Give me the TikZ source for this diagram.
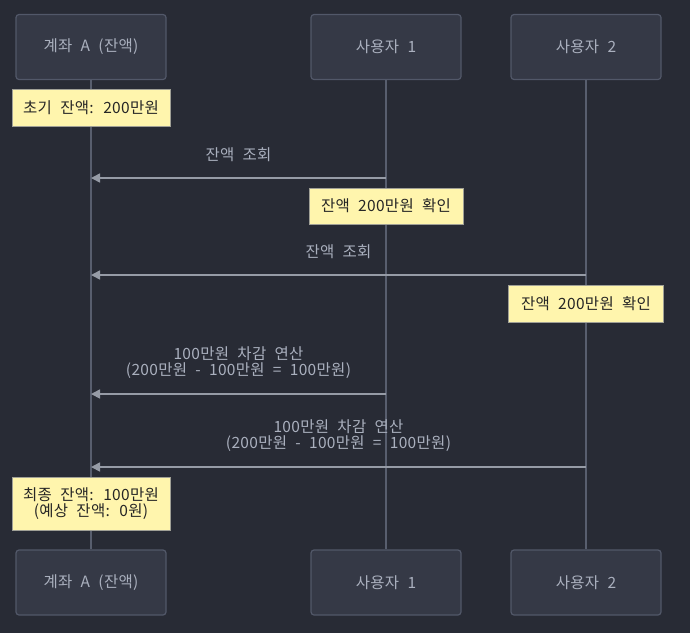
\documentclass[tikz,border=0pt]{standalone}
\usepackage{fontspec}
\setmainfont{Noto Sans CJK KR}[WordSpace=2.2, LetterSpace=2]
\usepackage{tikz}
\usetikzlibrary{positioning, arrows.meta}
\definecolor{bgc}{RGB}{40,43,53}
\definecolor{boxfill}{RGB}{53,57,70}
\definecolor{boxline}{RGB}{82,88,105}
\definecolor{lifec}{RGB}{88,94,110}
\definecolor{msgc}{RGB}{150,155,166}
\definecolor{txtc}{RGB}{170,176,190}
\definecolor{notefill}{RGB}{255,245,173}
\definecolor{noteline}{RGB}{160,160,150}
\tikzset{>=stealth, every node/.style={font=\fontsize{15.5}{16}\selectfont},
actor/.style={draw=boxline, fill=boxfill, line width=1.2pt, rounded corners=3pt, minimum width=150pt, minimum height=65pt, text=txtc},
note/.style={draw=noteline, fill=notefill, line width=0.8pt, text=black!85, align=center, inner sep=0pt},
lifeline/.style={draw=lifec, line width=1.5pt},
msg/.style={draw=msgc, line width=1.6pt, -{Triangle[length=9pt,width=9pt]}},
msglabel/.style={midway, above=15pt, text=txtc, align=center, inner sep=0pt},
}

\begin{document}
\begin{tikzpicture}[x=1pt, y=-1pt]
            \fill[bgc] (0,0) rectangle (690,633);
            \useasboundingbox (0,0) rectangle (690,633);

            % participants
            \node[actor](acct) at (91,47) {계좌 A (잔액)};
            \node[actor](user1) at (386,47) {사용자 1};
            \node[actor](user2) at (586,47) {사용자 2};
            \node[actor](acctB) at (91,582.5) {계좌 A (잔액)};
            \node[actor](user1B) at (386,582.5) {사용자 1};
            \node[actor](user2B) at (586,582.5) {사용자 2};

            % lifelines
            \draw[lifeline] (acct) -- (acctB);
            \draw[lifeline] (user1) -- (user1B);
            \draw[lifeline] (user2) -- (user2B);

            % notes
            \node[note, minimum width=158pt, minimum height=37pt](init) at (91,107.5) {초기 잔액: 200만원};
            \node[note, minimum width=154pt, minimum height=36pt](chk1) at (386,206) {잔액 200만원 확인};
            \node[note, minimum width=155pt, minimum height=37pt](chk2) at (586,303.5) {잔액 200만원 확인};
            \node[note, minimum width=158pt, minimum height=53pt](final) at (91,503.5) {최종 잔액: 100만원\\(예상 잔액: 0원)};

            % message ends
            \coordinate (q1s) at (386,178);
            \coordinate (q1e) at (91,178);
            \coordinate (q2s) at (586,275);
            \coordinate (q2e) at (91,275);
            \coordinate (w1s) at (386,394);
            \coordinate (w1e) at (91,394);
            \coordinate (w2s) at (586,467);
            \coordinate (w2e) at (91,467);

            \draw[msg] (q1s) -- node[msglabel]{잔액 조회} (q1e);
            \draw[msg] (q2s) -- node[msglabel]{잔액 조회} (q2e);
            \draw[msg] (w1s) -- node[msglabel]{100만원 차감 연산\\(200만원 - 100만원 = 100만원)} (w1e);
            \draw[msg] (w2s) -- node[msglabel]{100만원 차감 연산\\(200만원 - 100만원 = 100만원)} (w2e);
        \end{tikzpicture}
\end{document}
